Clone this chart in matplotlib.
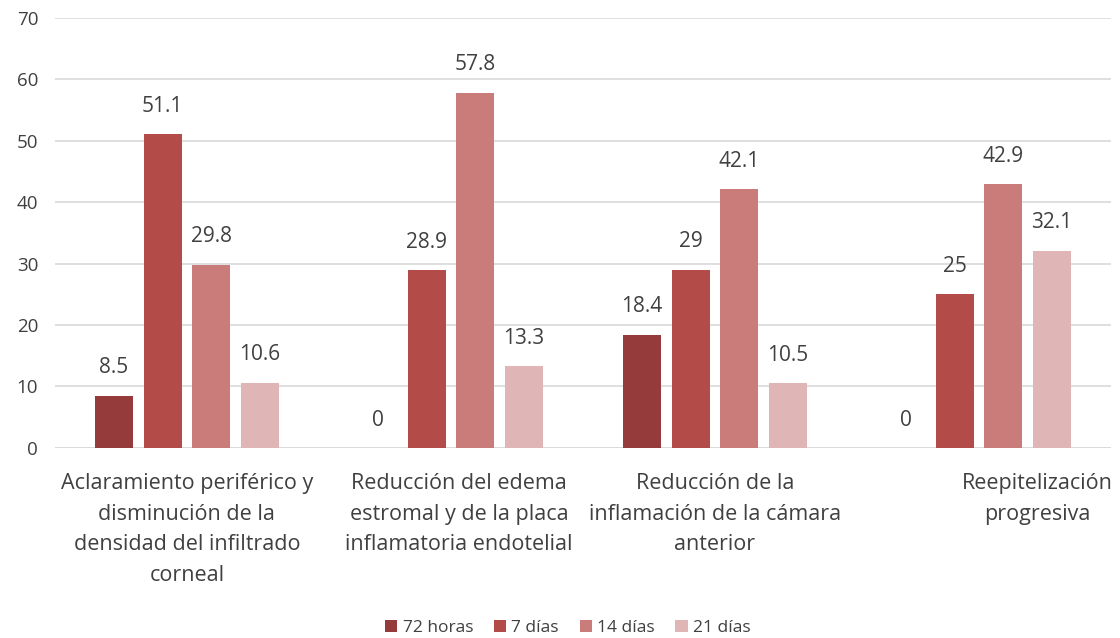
import numpy as np
import matplotlib.pyplot as plt

# Datos del gráfico
categorias = [
    "Aclaramiento periférico y\ndisminución de la\ndensidad del infiltrado\ncorneal",
    "Reducción del edema\nestromal y de la placa\ninflamatoria endotelial",
    "Reducción de la\ninflamación de la cámara\nanterior",
    "Reepitelización\nprogresiva",
]
series = ["72 horas", "7 días", "14 días", "21 días"]
v_72h = [8.5, 0, 18.4, 0]
v_7d = [51.1, 28.9, 29, 25]
v_14d = [29.8, 57.8, 42.1, 42.9]
v_21d = [10.6, 13.3, 10.5, 32.1]
colores = ["#963B3B", "#B34B48", "#CA7C7B", "#DFB6B5"]

plt.rcParams['font.family'] = ['Open Sans', 'DejaVu Sans']
gris = "#404040"

fig = plt.figure(figsize=(11.2, 6.38), dpi=100)
ax = fig.add_axes([0.049, 0.298, 0.943, 0.674])

x = np.arange(len(categorias))
paso = 0.184
ancho = 0.144
valores = [v_72h, v_7d, v_14d, v_21d]
for i, (nombre, vals) in enumerate(zip(series, valores)):
    pos = x + (i - 1.5) * paso
    barras = ax.bar(pos, vals, width=ancho, color=colores[i], label=nombre, zorder=3)
    for b, v in zip(barras, vals):
        ax.annotate(f"{v:g}", (b.get_x() + b.get_width() / 2, v),
                    xytext=(0, 12.5), textcoords="offset points",
                    ha="center", va="bottom", fontsize=15, color=gris)

ax.set_xlim(-0.5, len(categorias) - 0.5)
ax.set_ylim(0, 70)
ax.set_yticks(range(0, 71, 10))
ax.yaxis.grid(True, color="#D9D9D9", linewidth=1.2, zorder=0)
ax.tick_params(axis="y", length=0, labelsize=13.5, labelcolor=gris, pad=12)
ax.tick_params(axis="x", length=0)
ax.set_xticks([])
for s in ax.spines.values():
    s.set_visible(False)
ax.axhline(0, color="#D9D9D9", linewidth=1.2, zorder=2)

# etiquetas de categoría (la última aparece desplazada a la derecha en el original)
desplaz = [0, 0.03, 0.0, 0.22]
for xi, cat, d in zip(x, categorias, desplaz):
    ax.text(xi + d, -4.1, cat, ha="center", va="top", fontsize=15.5,
            color=gris, linespacing=1.6)

fig.legend(loc="lower center", ncol=4, frameon=False, fontsize=12.5,
           bbox_to_anchor=(0.507, -0.022), handlelength=0.7, handleheight=0.7,
           handletextpad=0.3, columnspacing=1.2, labelcolor=gris)

fig.savefig("out.png", dpi=100)
